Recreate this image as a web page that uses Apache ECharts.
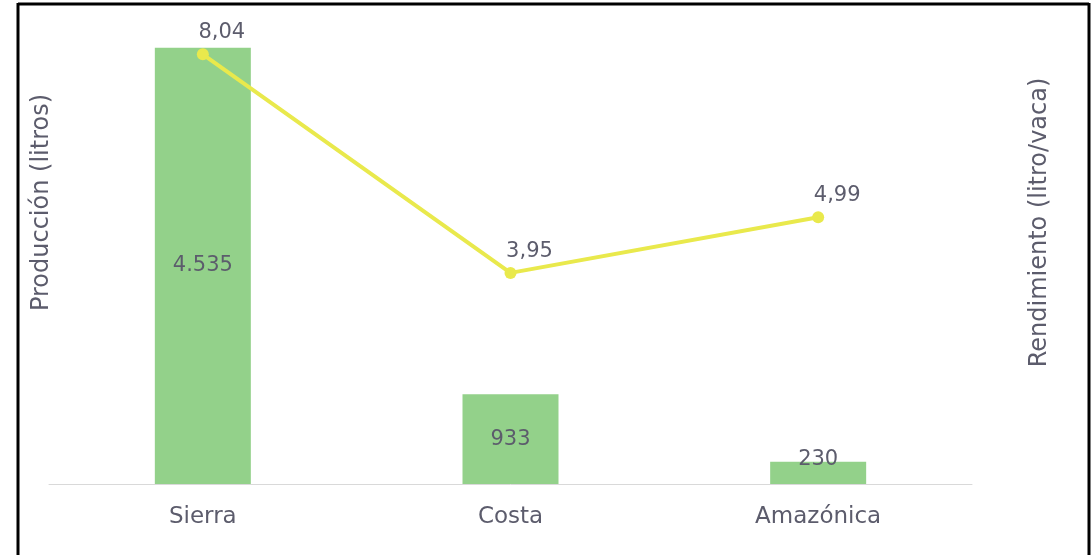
<!DOCTYPE html>
<html>
<head>
<meta charset="utf-8">
<script src="https://cdn.jsdelivr.net/npm/echarts@6/dist/echarts.min.js"></script>
<style>
html,body{margin:0;padding:0;background:#fff;}
#chart{width:1092px;height:555px;}
</style>
</head>
<body>
<div id="chart"></div>
<script>
const categories = ['Sierra', 'Costa', 'Amazónica'];
const produccion = [4535, 933, 230];
const rendimiento = [8.04, 3.95, 4.99];

const textColor = '#5c5c6c';
const fontFamily = '"DejaVu Sans", sans-serif';

const chart = echarts.init(document.getElementById('chart'));
chart.setOption({
  animation: false,
  backgroundColor: '#ffffff',
  grid: { left: 49, right: 120, top: 3, bottom: 71 },
  xAxis: {
    type: 'category',
    data: categories,
    axisLine: { lineStyle: { color: '#d9d9d9', width: 1 } },
    axisTick: { show: false },
    axisLabel: { color: textColor, fontSize: 23, fontFamily: fontFamily, margin: 22 }
  },
  yAxis: [
    {
      type: 'value', min: 0, max: 5000,
      name: 'Producción (litros)', nameLocation: 'middle', nameRotate: 90, nameGap: -5,
      nameTextStyle: { color: textColor, fontSize: 24, fontFamily: fontFamily, padding: [0, 0, 0, 82] },
      axisLine: { show: false }, axisTick: { show: false }, axisLabel: { show: false }, splitLine: { show: false }
    },
    {
      type: 'value', min: 0, max: 9,
      name: 'Rendimiento (litro/vaca)', nameLocation: 'middle', nameRotate: 90, nameGap: 56,
      nameTextStyle: { color: textColor, fontSize: 24, fontFamily: fontFamily, padding: [0, 0, 0, 42] },
      axisLine: { show: false }, axisTick: { show: false }, axisLabel: { show: false }, splitLine: { show: false }
    }
  ],
  series: [
    {
      type: 'bar',
      yAxisIndex: 0,
      barWidth: 96,
      itemStyle: { color: '#93d18a' },
      data: produccion.map(function (v) {
        return {
          value: v,
          label: { offset: v < 500 ? [0, -13] : [0, 0] }
        };
      }),
      label: {
        show: true, position: 'inside', color: textColor, fontSize: 21, fontFamily: fontFamily,
        formatter: function (p) { return p.value.toLocaleString('de-DE'); }
      },
      z: 2
    },
    {
      type: 'line',
      yAxisIndex: 1,
      data: rendimiento,
      symbol: 'circle', symbolSize: 12,
      lineStyle: { color: '#e9e94c', width: 4 },
      itemStyle: { color: '#e9e94c' },
      label: {
        show: true, position: 'top', offset: [19, 0], color: textColor, fontSize: 21, fontFamily: fontFamily,
        formatter: function (p) { return p.value.toFixed(2).replace('.', ','); }
      },
      z: 3
    }
  ],
  graphic: [
    { type: 'line', shape: { x1: 18, y1: 4, x2: 1089, y2: 4 }, style: { stroke: '#000', lineWidth: 3 } },
    { type: 'line', shape: { x1: 18, y1: 3, x2: 18, y2: 555 }, style: { stroke: '#000', lineWidth: 3 } },
    { type: 'line', shape: { x1: 1089, y1: 3, x2: 1089, y2: 555 }, style: { stroke: '#000', lineWidth: 3 } }
  ]
});
</script>
</body>
</html>
